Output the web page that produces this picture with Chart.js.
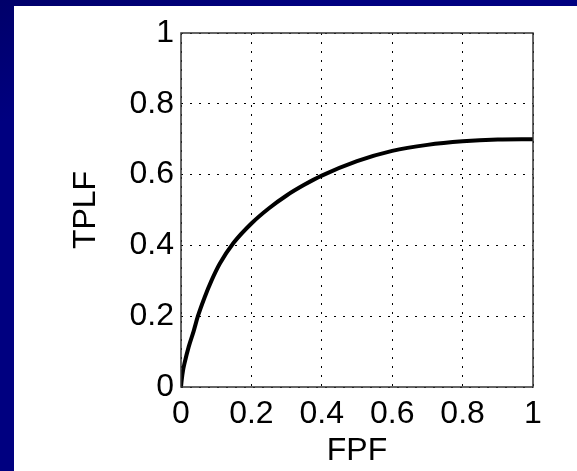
<!DOCTYPE html>
<html>
<head>
<meta charset="utf-8">
<script src="https://cdn.jsdelivr.net/npm/chart.js@4/dist/chart.umd.min.js"></script>
<style>
    html, body {
        margin: 0;
        padding: 0;
        width: 577px;
        height: 471px;
        overflow: hidden;
        background: linear-gradient(160deg, #00006a 0%, #000080 18%, #000080 100%);
    }
    #box {
        position: absolute;
        left: 14px;
        top: 6px;
        width: 563px;
        height: 465px;
        background: #fff;
    }
</style>
</head>
<body>
<div id="box"><canvas id="rocChart" width="563" height="465"></canvas></div>
<script>
// 曲线数据 (FPF -> TPLF)
const fpf  = [0, 0.002, 0.006, 0.01, 0.022, 0.036, 0.048, 0.067, 0.086, 0.11, 0.15, 0.2, 0.25, 0.3, 0.35, 0.4, 0.5, 0.6, 0.7, 0.8, 0.9, 1.0];
const tplf = [0, 0.02, 0.048, 0.067, 0.114, 0.158, 0.2, 0.253, 0.299, 0.348, 0.408, 0.462, 0.505, 0.541, 0.571, 0.597, 0.638, 0.667, 0.684, 0.694, 0.699, 0.70];

const xTicks = [0, 0.2, 0.4, 0.6, 0.8, 1];
const yTicks = [0, 0.2, 0.4, 0.6, 0.8, 1];
const xTitle = 'FPF';
const yTitle = 'TPLF';

const fontFamily = '"Liberation Sans", Arial, sans-serif';

// 坐标框
const frameBox = {
    id: 'frameBox',
    afterDraw(chart) {
        const { ctx, chartArea } = chart;
        ctx.save();
        ctx.strokeStyle = '#333';
        ctx.lineWidth = 1.5;
        ctx.strokeRect(chartArea.left, chartArea.top, chartArea.right - chartArea.left, chartArea.bottom - chartArea.top);
        ctx.restore();
    }
};

const ctx = document.getElementById('rocChart').getContext('2d');
new Chart(ctx, {
    type: 'line',
    data: {
        datasets: [{
            data: fpf.map((x, i) => ({ x: x, y: tplf[i] })),
            borderColor: '#000',
            borderWidth: 4,
            pointRadius: 0,
            fill: false,
            cubicInterpolationMode: 'monotone'
        }]
    },
    options: {
        responsive: false,
        animation: false,
        layout: { padding: { left: 0, right: 44, top: 27, bottom: 0 } },
        plugins: { legend: { display: false }, tooltip: { enabled: false } },
        scales: {
            x: {
                type: 'linear',
                min: 0,
                max: 1,
                afterBuildTicks: s => { s.ticks = xTicks.map(v => ({ value: v })); },
                afterFit: s => { s.height = 84; },
                ticks: {
                    color: '#000',
                    font: { family: fontFamily, size: 32 },
                    padding: 8,
                    maxRotation: 0,
                    callback: v => String(v)
                },
                grid: { color: '#000', lineWidth: 1, drawTicks: false },
                border: { display: false, dash: [2, 7] },
                title: {
                    display: true,
                    text: xTitle,
                    color: '#000',
                    font: { family: fontFamily, size: 32 },
                    padding: { top: 0, bottom: 1 }
                }
            },
            y: {
                type: 'linear',
                min: 0,
                max: 1,
                afterBuildTicks: s => { s.ticks = yTicks.map(v => ({ value: v })); },
                afterFit: s => { s.width = 167; },
                ticks: {
                    color: '#000',
                    font: { family: fontFamily, size: 32 },
                    padding: 7,
                    callback: v => String(v)
                },
                grid: { color: '#000', lineWidth: 1, drawTicks: false },
                border: { display: false, dash: [2, 7] },
                title: {
                    display: true,
                    text: yTitle,
                    color: '#000',
                    font: { family: fontFamily, size: 32 },
                    padding: { top: 53, bottom: 0 }
                }
            }
        }
    },
    plugins: [frameBox]
});
</script>
</body>
</html>
